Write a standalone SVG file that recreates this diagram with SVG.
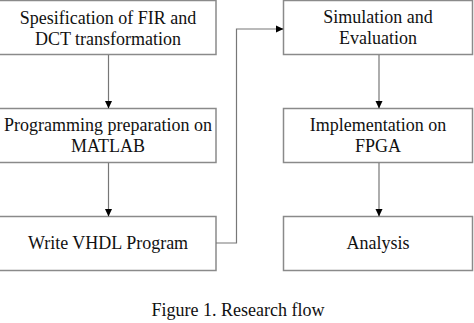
<svg xmlns="http://www.w3.org/2000/svg" width="474" height="323" viewBox="0 0 474 323">
<style>
.box{fill:#fff;stroke:#8a8a8a;stroke-width:1.5}
.t{font-family:"Liberation Serif","Times New Roman",serif;font-size:18px;fill:#111;text-anchor:middle}
.c{fill:none;stroke:#777;stroke-width:1.2}
</style>
<defs>
<marker id="ah" markerWidth="8" markerHeight="8" refX="7" refY="4" orient="auto" markerUnits="userSpaceOnUse">
<path d="M0,0.5 L7.5,4 L0,7.5 Z" fill="#000"/>
</marker>
</defs>
<rect width="474" height="323" fill="#fff"/>
<g id="n1"><rect class="box" x="-1" y="0.5" width="217" height="54"/><text class="t" x="108" y="24">Spesification of FIR and</text><text class="t" x="108" y="45">DCT transformation</text></g>
<g id="n2"><rect class="box" x="-1" y="108.5" width="217" height="54"/><text class="t" x="108" y="131">Programming preparation on</text><text class="t" x="108" y="152">MATLAB</text></g>
<g id="n3"><rect class="box" x="-1" y="216.5" width="217" height="54"/><text class="t" x="108" y="249">Write VHDL Program</text></g>
<g id="n4"><rect class="box" x="283.5" y="0.5" width="189" height="54"/><text class="t" x="378" y="23">Simulation and</text><text class="t" x="378" y="44">Evaluation</text></g>
<g id="n5"><rect class="box" x="283.5" y="108.5" width="189" height="54"/><text class="t" x="378" y="131">Implementation on</text><text class="t" x="378" y="152">FPGA</text></g>
<g id="n6"><rect class="box" x="283.5" y="216.5" width="189" height="54"/><text class="t" x="378" y="249">Analysis</text></g>
<g id="connectors">
<line class="c" x1="108.5" y1="55" x2="108.5" y2="108" marker-end="url(#ah)"/>
<line class="c" x1="108.5" y1="163" x2="108.5" y2="216" marker-end="url(#ah)"/>
<line class="c" x1="379" y1="55" x2="379" y2="108" marker-end="url(#ah)"/>
<line class="c" x1="379" y1="163" x2="379" y2="216" marker-end="url(#ah)"/>
<path class="c" d="M216,243 H236.5 V29 H283" marker-end="url(#ah)"/>
</g>
<text class="t" x="238" y="316">Figure 1. Research flow</text>
</svg>
